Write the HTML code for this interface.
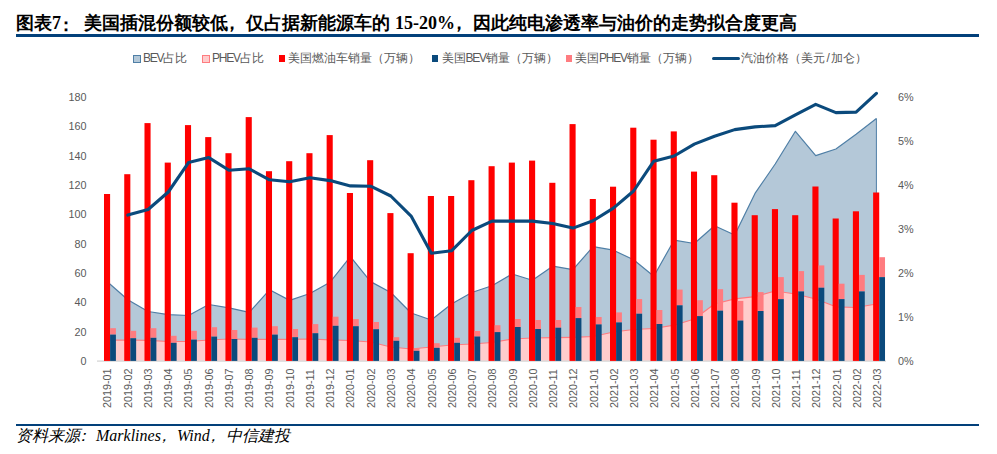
<!DOCTYPE html>
<html><head><meta charset="utf-8">
<style>
html,body{margin:0;padding:0;background:#fff;}
body{width:997px;height:454px;position:relative;overflow:hidden;font-family:"Liberation Sans",sans-serif;}
.a{position:absolute;white-space:nowrap;}
.t{font-size:18px;font-weight:bold;color:#000;top:11px;line-height:24px;}
.ts{font-family:"Liberation Serif",serif;}
.lg{font-size:12px;color:#595959;top:50px;line-height:16px;}
.lt{letter-spacing:-1.2px;}
.pp{position:relative;left:-5px;}
.ft{font-family:"Liberation Serif",serif;font-style:italic;font-size:16px;color:#000;top:426px;line-height:20px;}
svg{position:absolute;left:0;top:0;}
.ax{font-family:"Liberation Sans",sans-serif;font-size:10.8px;fill:#595959;}
</style></head><body>
<div class="a t" style="left:16px">图表</div>
<div class="a t ts" style="left:52px">7</div>
<div class="a t" style="left:57px;top:13px">：</div>
<div class="a t" style="left:84px">美国插混份额较低<span class="pp">，</span>仅占据新能源车的</div>
<div class="a t ts" style="left:395px">15-20%</div>
<div class="a t" style="left:455px"><span class="pp">，</span>因此纯电渗透率与油价的走势拟合度更高</div>
<div class="a" style="left:16px;top:34px;width:963px;height:3px;background:#02407a"></div>

<div class="a" style="left:133px;top:55px;width:6px;height:6px;background:#b4c8d8;border:1px solid #4f7fa6"></div>
<div class="a lg" style="left:143px"><span class="lt">BEV</span>占比</div>
<div class="a" style="left:202px;top:55px;width:6px;height:6px;background:#ffcccc;border:1px solid #ff7c80"></div>
<div class="a lg" style="left:212px"><span class="lt">PHEV</span>占比</div>
<div class="a" style="left:279px;top:55px;width:6px;height:7px;background:#ff0000"></div>
<div class="a lg" style="left:288px">美国燃油车销量（万辆）</div>
<div class="a" style="left:432px;top:55px;width:6px;height:7px;background:#0b4a7c"></div>
<div class="a lg" style="left:441.5px">美国<span class="lt">BEV</span>销量（万辆）</div>
<div class="a" style="left:566px;top:55px;width:6px;height:7px;background:#ff7c80"></div>
<div class="a lg" style="left:575px">美国<span class="lt">PHEV</span>销量（万辆）</div>
<div class="a" style="left:712px;top:57.2px;width:28px;height:3px;background:#0b4a7c;border-radius:1.5px"></div>
<div class="a lg" style="left:741px">汽油价格（美元<span style="margin:0 1.5px">/</span>加仑）</div>

<svg width="997" height="454" viewBox="0 0 997 454">
<path d="M107.6,360.9 L107.6,282.0 L127.8,299.7 L148.1,311.5 L168.3,314.7 L188.5,315.5 L208.8,304.5 L229.0,307.8 L249.2,312.4 L269.5,289.8 L289.7,300.4 L309.9,293.5 L330.1,282.2 L350.4,256.7 L370.6,281.6 L390.8,292.5 L411.1,313.0 L431.3,320.0 L451.5,304.0 L471.8,292.5 L492.0,285.7 L512.2,274.0 L532.4,280.3 L552.7,266.2 L572.9,269.6 L593.1,246.7 L613.4,250.2 L633.6,259.8 L653.8,276.2 L674.1,240.2 L694.3,243.5 L714.5,225.8 L734.7,235.0 L755.0,193.4 L775.2,164.0 L795.4,131.3 L815.7,155.6 L835.9,149.0 L856.1,134.3 L876.4,118.5 L876.4,360.9 Z" fill="#b4c8d8"/><path d="M107.6,282.0 L127.8,299.7 L148.1,311.5 L168.3,314.7 L188.5,315.5 L208.8,304.5 L229.0,307.8 L249.2,312.4 L269.5,289.8 L289.7,300.4 L309.9,293.5 L330.1,282.2 L350.4,256.7 L370.6,281.6 L390.8,292.5 L411.1,313.0 L431.3,320.0 L451.5,304.0 L471.8,292.5 L492.0,285.7 L512.2,274.0 L532.4,280.3 L552.7,266.2 L572.9,269.6 L593.1,246.7 L613.4,250.2 L633.6,259.8 L653.8,276.2 L674.1,240.2 L694.3,243.5 L714.5,225.8 L734.7,235.0 L755.0,193.4 L775.2,164.0 L795.4,131.3 L815.7,155.6 L835.9,149.0 L856.1,134.3 L876.4,118.5" fill="none" stroke="#4f7fa6" stroke-width="1.2" stroke-linejoin="round"/><path d="M876.4,118.5 L876.4,360.9" stroke="#4f7fa6" stroke-width="1"/><path d="M107.6,360.9 L107.6,340.2 L127.8,340.0 L148.1,340.3 L168.3,341.5 L188.5,341.5 L208.8,340.0 L229.0,339.0 L249.2,339.4 L269.5,339.4 L289.7,339.4 L309.9,339.0 L330.1,339.8 L350.4,340.5 L370.6,342.0 L390.8,347.0 L411.1,349.0 L431.3,347.0 L451.5,345.0 L471.8,344.0 L492.0,342.5 L512.2,339.0 L532.4,338.0 L552.7,337.7 L572.9,337.3 L593.1,336.5 L613.4,332.0 L633.6,329.5 L653.8,328.5 L674.1,325.2 L694.3,319.0 L714.5,304.0 L734.7,298.8 L755.0,296.6 L775.2,291.0 L795.4,294.0 L815.7,299.0 L835.9,306.8 L856.1,307.5 L876.4,304.0 L876.4,360.9 Z" fill="#ffcccc"/><path d="M107.6,340.2 L127.8,340.0 L148.1,340.3 L168.3,341.5 L188.5,341.5 L208.8,340.0 L229.0,339.0 L249.2,339.4 L269.5,339.4 L289.7,339.4 L309.9,339.0 L330.1,339.8 L350.4,340.5 L370.6,342.0 L390.8,347.0 L411.1,349.0 L431.3,347.0 L451.5,345.0 L471.8,344.0 L492.0,342.5 L512.2,339.0 L532.4,338.0 L552.7,337.7 L572.9,337.3 L593.1,336.5 L613.4,332.0 L633.6,329.5 L653.8,328.5 L674.1,325.2 L694.3,319.0 L714.5,304.0 L734.7,298.8 L755.0,296.6 L775.2,291.0 L795.4,294.0 L815.7,299.0 L835.9,306.8 L856.1,307.5 L876.4,304.0" fill="none" stroke="#ff7c80" stroke-width="1.2" stroke-linejoin="round"/><path d="M876.4,304.0 L876.4,360.9" stroke="#ff7c80" stroke-width="1"/><rect x="97" y="360.4" width="789" height="1.4" fill="#d9d9d9"/><rect x="104.00" y="194.0" width="6.1" height="166.9" fill="#ff0000"/><rect x="110.10" y="328.2" width="5.8" height="6.4" fill="#ff7c80"/><rect x="110.10" y="334.6" width="5.8" height="26.3" fill="#0b4a7c"/><rect x="124.24" y="174.2" width="6.1" height="186.7" fill="#ff0000"/><rect x="130.34" y="330.8" width="5.8" height="7.4" fill="#ff7c80"/><rect x="130.34" y="338.2" width="5.8" height="22.7" fill="#0b4a7c"/><rect x="144.48" y="123.1" width="6.1" height="237.8" fill="#ff0000"/><rect x="150.58" y="328.2" width="5.8" height="9.6" fill="#ff7c80"/><rect x="150.58" y="337.8" width="5.8" height="23.1" fill="#0b4a7c"/><rect x="164.72" y="162.6" width="6.1" height="198.3" fill="#ff0000"/><rect x="170.82" y="335.8" width="5.8" height="7.0" fill="#ff7c80"/><rect x="170.82" y="342.8" width="5.8" height="18.1" fill="#0b4a7c"/><rect x="184.96" y="125.1" width="6.1" height="235.8" fill="#ff0000"/><rect x="191.06" y="330.8" width="5.8" height="8.8" fill="#ff7c80"/><rect x="191.06" y="339.6" width="5.8" height="21.3" fill="#0b4a7c"/><rect x="205.20" y="137.1" width="6.1" height="223.8" fill="#ff0000"/><rect x="211.30" y="327.2" width="5.8" height="9.4" fill="#ff7c80"/><rect x="211.30" y="336.6" width="5.8" height="24.3" fill="#0b4a7c"/><rect x="225.44" y="153.2" width="6.1" height="207.7" fill="#ff0000"/><rect x="231.54" y="330.0" width="5.8" height="9.0" fill="#ff7c80"/><rect x="231.54" y="339.0" width="5.8" height="21.9" fill="#0b4a7c"/><rect x="245.68" y="117.1" width="6.1" height="243.8" fill="#ff0000"/><rect x="251.78" y="327.6" width="5.8" height="10.2" fill="#ff7c80"/><rect x="251.78" y="337.8" width="5.8" height="23.1" fill="#0b4a7c"/><rect x="265.92" y="171.2" width="6.1" height="189.7" fill="#ff0000"/><rect x="272.02" y="326.2" width="5.8" height="8.4" fill="#ff7c80"/><rect x="272.02" y="334.6" width="5.8" height="26.3" fill="#0b4a7c"/><rect x="286.16" y="161.2" width="6.1" height="199.7" fill="#ff0000"/><rect x="292.26" y="329.0" width="5.8" height="8.2" fill="#ff7c80"/><rect x="292.26" y="337.2" width="5.8" height="23.7" fill="#0b4a7c"/><rect x="306.40" y="153.2" width="6.1" height="207.7" fill="#ff0000"/><rect x="312.50" y="324.1" width="5.8" height="9.1" fill="#ff7c80"/><rect x="312.50" y="333.2" width="5.8" height="27.7" fill="#0b4a7c"/><rect x="326.64" y="135.1" width="6.1" height="225.8" fill="#ff0000"/><rect x="332.74" y="316.7" width="5.8" height="9.1" fill="#ff7c80"/><rect x="332.74" y="325.8" width="5.8" height="35.1" fill="#0b4a7c"/><rect x="346.88" y="193.0" width="6.1" height="167.9" fill="#ff0000"/><rect x="352.98" y="319.1" width="5.8" height="7.1" fill="#ff7c80"/><rect x="352.98" y="326.2" width="5.8" height="34.7" fill="#0b4a7c"/><rect x="367.12" y="160.2" width="6.1" height="200.7" fill="#ff0000"/><rect x="373.22" y="322.0" width="5.8" height="7.2" fill="#ff7c80"/><rect x="373.22" y="329.2" width="5.8" height="31.7" fill="#0b4a7c"/><rect x="387.36" y="213.1" width="6.1" height="147.8" fill="#ff0000"/><rect x="393.46" y="337.2" width="5.8" height="3.6" fill="#ff7c80"/><rect x="393.46" y="340.8" width="5.8" height="20.1" fill="#0b4a7c"/><rect x="407.60" y="253.2" width="6.1" height="107.7" fill="#ff0000"/><rect x="413.70" y="348.2" width="5.8" height="2.6" fill="#ff7c80"/><rect x="413.70" y="350.8" width="5.8" height="10.1" fill="#0b4a7c"/><rect x="427.84" y="196.0" width="6.1" height="164.9" fill="#ff0000"/><rect x="433.94" y="343.2" width="5.8" height="4.6" fill="#ff7c80"/><rect x="433.94" y="347.8" width="5.8" height="13.1" fill="#0b4a7c"/><rect x="448.08" y="196.0" width="6.1" height="164.9" fill="#ff0000"/><rect x="454.18" y="337.8" width="5.8" height="5.0" fill="#ff7c80"/><rect x="454.18" y="342.8" width="5.8" height="18.1" fill="#0b4a7c"/><rect x="468.32" y="180.2" width="6.1" height="180.7" fill="#ff0000"/><rect x="474.42" y="331.0" width="5.8" height="5.5" fill="#ff7c80"/><rect x="474.42" y="336.5" width="5.8" height="24.4" fill="#0b4a7c"/><rect x="488.56" y="166.2" width="6.1" height="194.7" fill="#ff0000"/><rect x="494.66" y="325.2" width="5.8" height="6.9" fill="#ff7c80"/><rect x="494.66" y="332.1" width="5.8" height="28.8" fill="#0b4a7c"/><rect x="508.80" y="162.6" width="6.1" height="198.3" fill="#ff0000"/><rect x="514.90" y="319.0" width="5.8" height="8.0" fill="#ff7c80"/><rect x="514.90" y="327.0" width="5.8" height="33.9" fill="#0b4a7c"/><rect x="529.04" y="160.6" width="6.1" height="200.3" fill="#ff0000"/><rect x="535.14" y="320.0" width="5.8" height="9.0" fill="#ff7c80"/><rect x="535.14" y="329.0" width="5.8" height="31.9" fill="#0b4a7c"/><rect x="549.28" y="182.8" width="6.1" height="178.1" fill="#ff0000"/><rect x="555.38" y="320.0" width="5.8" height="7.7" fill="#ff7c80"/><rect x="555.38" y="327.7" width="5.8" height="33.2" fill="#0b4a7c"/><rect x="569.52" y="124.1" width="6.1" height="236.8" fill="#ff0000"/><rect x="575.62" y="307.0" width="5.8" height="11.1" fill="#ff7c80"/><rect x="575.62" y="318.1" width="5.8" height="42.8" fill="#0b4a7c"/><rect x="589.76" y="199.0" width="6.1" height="161.9" fill="#ff0000"/><rect x="595.86" y="317.0" width="5.8" height="7.4" fill="#ff7c80"/><rect x="595.86" y="324.4" width="5.8" height="36.5" fill="#0b4a7c"/><rect x="610.00" y="186.7" width="6.1" height="174.2" fill="#ff0000"/><rect x="616.10" y="312.4" width="5.8" height="10.0" fill="#ff7c80"/><rect x="616.10" y="322.4" width="5.8" height="38.5" fill="#0b4a7c"/><rect x="630.24" y="127.7" width="6.1" height="233.2" fill="#ff0000"/><rect x="636.34" y="299.1" width="5.8" height="14.6" fill="#ff7c80"/><rect x="636.34" y="313.7" width="5.8" height="47.2" fill="#0b4a7c"/><rect x="650.48" y="139.7" width="6.1" height="221.2" fill="#ff0000"/><rect x="656.58" y="310.0" width="5.8" height="14.0" fill="#ff7c80"/><rect x="656.58" y="324.0" width="5.8" height="36.9" fill="#0b4a7c"/><rect x="670.72" y="131.4" width="6.1" height="229.5" fill="#ff0000"/><rect x="676.82" y="289.6" width="5.8" height="15.7" fill="#ff7c80"/><rect x="676.82" y="305.3" width="5.8" height="55.6" fill="#0b4a7c"/><rect x="690.96" y="171.6" width="6.1" height="189.3" fill="#ff0000"/><rect x="697.06" y="300.2" width="5.8" height="15.9" fill="#ff7c80"/><rect x="697.06" y="316.1" width="5.8" height="44.8" fill="#0b4a7c"/><rect x="711.20" y="175.2" width="6.1" height="185.7" fill="#ff0000"/><rect x="717.30" y="289.2" width="5.8" height="21.4" fill="#ff7c80"/><rect x="717.30" y="310.6" width="5.8" height="50.3" fill="#0b4a7c"/><rect x="731.44" y="202.7" width="6.1" height="158.2" fill="#ff0000"/><rect x="737.54" y="300.9" width="5.8" height="19.6" fill="#ff7c80"/><rect x="737.54" y="320.5" width="5.8" height="40.4" fill="#0b4a7c"/><rect x="751.68" y="215.2" width="6.1" height="145.7" fill="#ff0000"/><rect x="757.78" y="292.1" width="5.8" height="18.9" fill="#ff7c80"/><rect x="757.78" y="311.0" width="5.8" height="49.9" fill="#0b4a7c"/><rect x="771.92" y="209.1" width="6.1" height="151.8" fill="#ff0000"/><rect x="778.02" y="277.1" width="5.8" height="22.0" fill="#ff7c80"/><rect x="778.02" y="299.1" width="5.8" height="61.8" fill="#0b4a7c"/><rect x="792.16" y="215.2" width="6.1" height="145.7" fill="#ff0000"/><rect x="798.26" y="271.1" width="5.8" height="20.3" fill="#ff7c80"/><rect x="798.26" y="291.4" width="5.8" height="69.5" fill="#0b4a7c"/><rect x="812.40" y="186.5" width="6.1" height="174.4" fill="#ff0000"/><rect x="818.50" y="265.4" width="5.8" height="22.3" fill="#ff7c80"/><rect x="818.50" y="287.7" width="5.8" height="73.2" fill="#0b4a7c"/><rect x="832.64" y="218.5" width="6.1" height="142.4" fill="#ff0000"/><rect x="838.74" y="283.7" width="5.8" height="15.4" fill="#ff7c80"/><rect x="838.74" y="299.1" width="5.8" height="61.8" fill="#0b4a7c"/><rect x="852.88" y="211.3" width="6.1" height="149.6" fill="#ff0000"/><rect x="858.98" y="274.9" width="5.8" height="16.5" fill="#ff7c80"/><rect x="858.98" y="291.4" width="5.8" height="69.5" fill="#0b4a7c"/><rect x="873.12" y="192.5" width="6.1" height="168.4" fill="#ff0000"/><rect x="879.22" y="257.2" width="5.8" height="19.9" fill="#ff7c80"/><rect x="879.22" y="277.1" width="5.8" height="83.8" fill="#0b4a7c"/><path d="M127.8,215.1 L148.1,209.5 L168.3,192.0 L188.5,162.6 L208.8,157.6 L229.0,170.2 L249.2,168.8 L269.5,179.8 L289.7,181.8 L309.9,177.8 L330.1,180.6 L350.4,185.9 L370.6,186.2 L390.8,196.0 L411.1,216.1 L431.3,253.2 L451.5,250.8 L471.8,230.5 L492.0,221.1 L512.2,221.1 L532.4,221.1 L552.7,223.5 L572.9,228.1 L593.1,220.7 L613.4,208.1 L633.6,191.0 L653.8,161.2 L674.1,156.0 L694.3,144.1 L714.5,136.2 L734.7,129.6 L755.0,126.9 L775.2,125.6 L795.4,114.8 L815.7,104.4 L835.9,112.6 L856.1,112.1 L876.4,93.4" fill="none" stroke="#0b4a7c" stroke-width="3.1" stroke-linejoin="round" stroke-linecap="round"/><text x="86.5" y="364.9" text-anchor="end" class="ax">0</text><text x="86.5" y="335.6" text-anchor="end" class="ax">20</text><text x="86.5" y="306.2" text-anchor="end" class="ax">40</text><text x="86.5" y="276.9" text-anchor="end" class="ax">60</text><text x="86.5" y="247.6" text-anchor="end" class="ax">80</text><text x="86.5" y="218.2" text-anchor="end" class="ax">100</text><text x="86.5" y="188.9" text-anchor="end" class="ax">120</text><text x="86.5" y="159.6" text-anchor="end" class="ax">140</text><text x="86.5" y="130.2" text-anchor="end" class="ax">160</text><text x="86.5" y="100.9" text-anchor="end" class="ax">180</text><text x="898" y="364.9" class="ax">0%</text><text x="898" y="320.9" class="ax">1%</text><text x="898" y="276.9" class="ax">2%</text><text x="898" y="232.9" class="ax">3%</text><text x="898" y="188.9" class="ax">4%</text><text x="898" y="144.9" class="ax">5%</text><text x="898" y="100.9" class="ax">6%</text><text transform="translate(111.3,408.1) rotate(-90)" class="ax">2019-01</text><text transform="translate(131.6,408.1) rotate(-90)" class="ax">2019-02</text><text transform="translate(151.8,408.1) rotate(-90)" class="ax">2019-03</text><text transform="translate(172.1,408.1) rotate(-90)" class="ax">2019-04</text><text transform="translate(192.4,408.1) rotate(-90)" class="ax">2019-05</text><text transform="translate(212.6,408.1) rotate(-90)" class="ax">2019-06</text><text transform="translate(232.9,408.1) rotate(-90)" class="ax">2019-07</text><text transform="translate(253.1,408.1) rotate(-90)" class="ax">2019-08</text><text transform="translate(273.4,408.1) rotate(-90)" class="ax">2019-09</text><text transform="translate(293.6,408.1) rotate(-90)" class="ax">2019-10</text><text transform="translate(313.9,408.1) rotate(-90)" class="ax">2019-11</text><text transform="translate(334.2,408.1) rotate(-90)" class="ax">2019-12</text><text transform="translate(354.4,408.1) rotate(-90)" class="ax">2020-01</text><text transform="translate(374.7,408.1) rotate(-90)" class="ax">2020-02</text><text transform="translate(394.9,408.1) rotate(-90)" class="ax">2020-03</text><text transform="translate(415.2,408.1) rotate(-90)" class="ax">2020-04</text><text transform="translate(435.5,408.1) rotate(-90)" class="ax">2020-05</text><text transform="translate(455.7,408.1) rotate(-90)" class="ax">2020-06</text><text transform="translate(476.0,408.1) rotate(-90)" class="ax">2020-07</text><text transform="translate(496.2,408.1) rotate(-90)" class="ax">2020-08</text><text transform="translate(516.5,408.1) rotate(-90)" class="ax">2020-09</text><text transform="translate(536.8,408.1) rotate(-90)" class="ax">2020-10</text><text transform="translate(557.0,408.1) rotate(-90)" class="ax">2020-11</text><text transform="translate(577.3,408.1) rotate(-90)" class="ax">2020-12</text><text transform="translate(597.5,408.1) rotate(-90)" class="ax">2021-01</text><text transform="translate(617.8,408.1) rotate(-90)" class="ax">2021-02</text><text transform="translate(638.0,408.1) rotate(-90)" class="ax">2021-03</text><text transform="translate(658.3,408.1) rotate(-90)" class="ax">2021-04</text><text transform="translate(678.6,408.1) rotate(-90)" class="ax">2021-05</text><text transform="translate(698.8,408.1) rotate(-90)" class="ax">2021-06</text><text transform="translate(719.1,408.1) rotate(-90)" class="ax">2021-07</text><text transform="translate(739.3,408.1) rotate(-90)" class="ax">2021-08</text><text transform="translate(759.6,408.1) rotate(-90)" class="ax">2021-09</text><text transform="translate(779.9,408.1) rotate(-90)" class="ax">2021-10</text><text transform="translate(800.1,408.1) rotate(-90)" class="ax">2021-11</text><text transform="translate(820.4,408.1) rotate(-90)" class="ax">2021-12</text><text transform="translate(840.6,408.1) rotate(-90)" class="ax">2022-01</text><text transform="translate(860.9,408.1) rotate(-90)" class="ax">2022-02</text><text transform="translate(881.2,408.1) rotate(-90)" class="ax">2022-03</text>
</svg>

<div class="a" style="left:16px;top:424.2px;width:963px;height:1.6px;background:#02407a"></div>
<div class="a ft" style="left:16px">资料来源<span class="pp">：</span>Marklines<span class="pp">，</span>Wind<span class="pp">，</span>中信建投</div>
</body></html>
